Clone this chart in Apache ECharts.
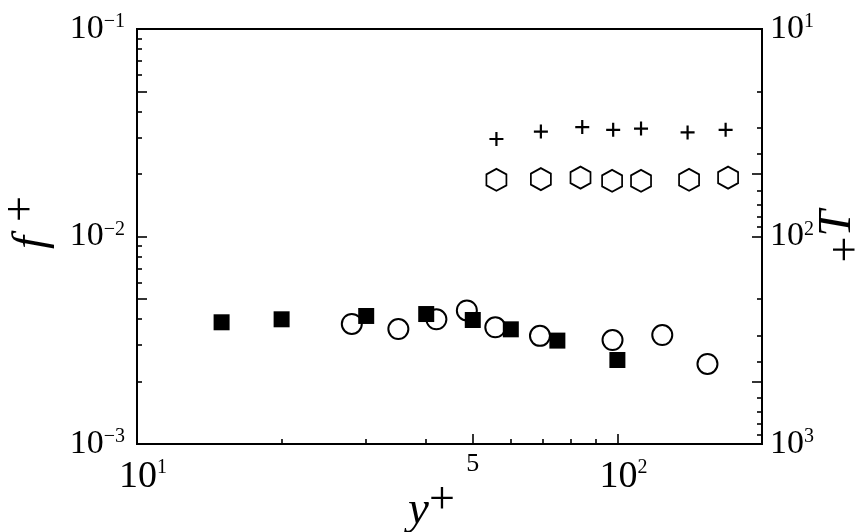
<!DOCTYPE html>
<html>
<head>
<meta charset="utf-8">
<script src="https://cdn.jsdelivr.net/npm/echarts@6/dist/echarts.min.js"></script>
<style>
  html, body { margin: 0; padding: 0; background: #fff; }
  #chart { width: 860px; height: 532px; }
</style>
</head>
<body>
<div id="chart"></div>
<script>
// values (y+ on x, f+ on the left axis, T+ on the inverted right axis)
const squareX = [15, 20, 30, 40, 50, 60, 75, 100];
const squareF = [0.00386, 0.00399, 0.00414, 0.00423, 0.00396, 0.00357, 0.00315, 0.00254];

const circleX = [28, 35, 42, 48.6, 55.7, 69, 97.7, 124, 154];
const circleF = [0.00379, 0.00358, 0.00399, 0.0044, 0.00365, 0.00332, 0.00317, 0.00335, 0.00243];

const hexX = [56, 69.3, 83.8, 97.5, 112, 141, 170];
const hexT = [53.3, 52.9, 52.0, 53.9, 53.9, 53.3, 52.0];

const plusX = [56, 69.3, 84.5, 98, 112, 140, 168];
const plusT = [33.9, 31.2, 29.7, 30.6, 30.2, 31.5, 30.6];

// ticks and tick labels ('a^b' = a with superscript b)
const xLabelTicks = [10, 50, 100];
const xLabelText = ['10^1', '^5', '10^2'];
const xLongTicks = [10, 50, 100];
const xShortTicks = [20, 30, 40, 60, 70, 80, 90];

const fLabelTicks = [0.001, 0.01, 0.1];
const fLabelText = ['10^\u22123', '10^\u22122', '10^\u22121'];
const fLongTicks = [0.001, 0.005, 0.01, 0.05, 0.1];
const fShortTicks = [0.002, 0.003, 0.004, 0.006, 0.007, 0.008, 0.009,
  0.02, 0.03, 0.04, 0.06, 0.07, 0.08, 0.09];

const tLabelTicks = [10, 100, 1000];
const tLabelText = ['10^1', '10^2', '10^3'];
const tLongTicks = [10, 50, 100, 500, 1000];
const tShortTicks = [20, 30, 40, 60, 70, 80, 90, 200, 300, 400, 600, 700, 800, 900];

const SERIF = 'Liberation Serif';

const zip = (xs, ys) => xs.map((x, i) => [x, ys[i]]);

// look up the label text for a tick value (log axes give back slightly off floats)
const pickLabel = (ticks, texts, v) => {
  const i = ticks.findIndex((t) => Math.abs(Math.log10(t) - Math.log10(v)) < 1e-6);
  return i < 0 ? '' : texts[i];
};

const toRich = (text, pad) => {
  const parts = text.split('^');
  if (parts[0] === '') return '{five|' + parts[1] + '}';
  return (pad ? '{p|}' : '') + '{b|' + parts[0] + '}{s|' + parts[1] + '}';
};

const tickRich = (size) => ({
  b: { fontFamily: SERIF, fontSize: size, lineHeight: size, color: '#000' },
  s: { fontFamily: SERIF, fontSize: 20, lineHeight: 16, verticalAlign: 'top', color: '#000' },
  p: { width: 12 },
  five: { fontFamily: SERIF, fontSize: 26, lineHeight: 12, color: '#000' }
});

// axis names: italic letter at the bottom of a 56px line, "+" at its top
const nameRich = {
  v: { fontFamily: SERIF, fontStyle: 'italic', fontSize: 47, lineHeight: 56, verticalAlign: 'bottom', color: '#000' },
  s: { fontFamily: SERIF, fontSize: 46, lineHeight: 40, verticalAlign: 'top', color: '#000' },
  g: { width: 14 }
};
const rightNameRich = {
  v: { fontFamily: SERIF, fontStyle: 'italic', fontSize: 47, lineHeight: 56, verticalAlign: 'top', color: '#000' },
  m: { fontFamily: SERIF, fontSize: 46, lineHeight: 40, verticalAlign: 'bottom', color: '#000' }
};

const tickLine = { color: '#000', width: 1.6 };

const logAxis = (extra) => Object.assign({
  type: 'log',
  logBase: 10,
  axisLine: { show: false },
  splitLine: { show: false },
  minorTick: { show: false },
  minorSplitLine: { show: false },
  nameMoveOverlap: false
}, extra);

const hexPath = 'path://M0,-1L0.866,-0.5L0.866,0.5L0,1L-0.866,0.5L-0.866,-0.5Z';
const plusPath = 'path://M0,-1L0,1M-1,0L1,0';

const chart = echarts.init(document.getElementById('chart'));

chart.setOption({
  animation: false,
  backgroundColor: '#fff',
  grid: {
    left: 137, right: 98, top: 29, bottom: 88,
    show: true, borderColor: '#000', borderWidth: 2,
    backgroundColor: 'rgba(0,0,0,0)',
    outerBoundsMode: 'none'
  },
  xAxis: [
    logAxis({
      position: 'bottom', min: 10, max: 200,
      axisTick: { inside: true, length: 10, customValues: xLongTicks, lineStyle: tickLine },
      axisLabel: {
        customValues: xLabelTicks, margin: 14,
        formatter: (v) => toRich(pickLabel(xLabelTicks, xLabelText, v), true),
        rich: tickRich(38)
      },
      name: '{v|y}{s|+}',
      nameLocation: 'middle',
      nameGap: 34,
      nameTextStyle: { rich: nameRich, padding: [0, 36, 0, 0] }
    }),
    logAxis({
      position: 'bottom', min: 10, max: 200,
      axisTick: { inside: true, length: 5, customValues: xShortTicks, lineStyle: tickLine },
      axisLabel: { show: false }
    })
  ],
  yAxis: [
    logAxis({
      position: 'left', min: 0.001, max: 0.1,
      axisTick: { inside: true, length: 10, customValues: fLongTicks, lineStyle: tickLine },
      axisLabel: {
        customValues: fLabelTicks, margin: 12,
        formatter: (v) => toRich(pickLabel(fLabelTicks, fLabelText, v), false),
        rich: tickRich(34)
      },
      name: '{v|f}{g|}{s|+}',
      nameLocation: 'middle',
      nameRotate: 90,
      nameGap: 82,
      nameTextStyle: { rich: nameRich, padding: [0, 0, 0, 28] }
    }),
    logAxis({
      position: 'left', min: 0.001, max: 0.1,
      axisTick: { inside: true, length: 5, customValues: fShortTicks, lineStyle: tickLine },
      axisLabel: { show: false }
    }),
    logAxis({
      position: 'right', min: 10, max: 1000, inverse: true,
      axisTick: { inside: true, length: 10, customValues: tLongTicks, lineStyle: tickLine },
      axisLabel: {
        customValues: tLabelTicks, margin: 8,
        formatter: (v) => toRich(pickLabel(tLabelTicks, tLabelText, v), false),
        rich: tickRich(34)
      },
      name: '{m|+}{v|T}',
      nameLocation: 'middle',
      nameRotate: 90,
      nameGap: 52,
      nameTextStyle: { rich: rightNameRich }
    }),
    logAxis({
      position: 'right', min: 10, max: 1000, inverse: true,
      axisTick: { inside: true, length: 5, customValues: tShortTicks, lineStyle: tickLine },
      axisLabel: { show: false }
    })
  ],
  series: [
    {
      type: 'scatter', xAxisIndex: 0, yAxisIndex: 0,
      data: zip(circleX, circleF),
      symbol: 'circle', symbolSize: 20,
      itemStyle: { color: 'rgba(255,255,255,0)', borderColor: '#000', borderWidth: 2, opacity: 1 },
      emphasis: { disabled: true }
    },
    {
      type: 'scatter', xAxisIndex: 0, yAxisIndex: 0,
      data: zip(squareX, squareF),
      symbol: 'rect', symbolSize: 16,
      itemStyle: { color: '#000', opacity: 1 },
      emphasis: { disabled: true }
    },
    {
      type: 'scatter', xAxisIndex: 0, yAxisIndex: 2,
      data: zip(hexX, hexT),
      symbol: hexPath, symbolSize: [20, 22],
      itemStyle: { color: 'rgba(255,255,255,0)', borderColor: '#000', borderWidth: 1.8, opacity: 1 },
      emphasis: { disabled: true }
    },
    {
      type: 'scatter', xAxisIndex: 0, yAxisIndex: 2,
      data: zip(plusX, plusT),
      symbol: plusPath, symbolSize: 14,
      itemStyle: { color: 'rgba(0,0,0,0)', borderColor: '#000', borderWidth: 2.2, opacity: 1 },
      emphasis: { disabled: true }
    }
  ]
});
</script>
</body>
</html>
